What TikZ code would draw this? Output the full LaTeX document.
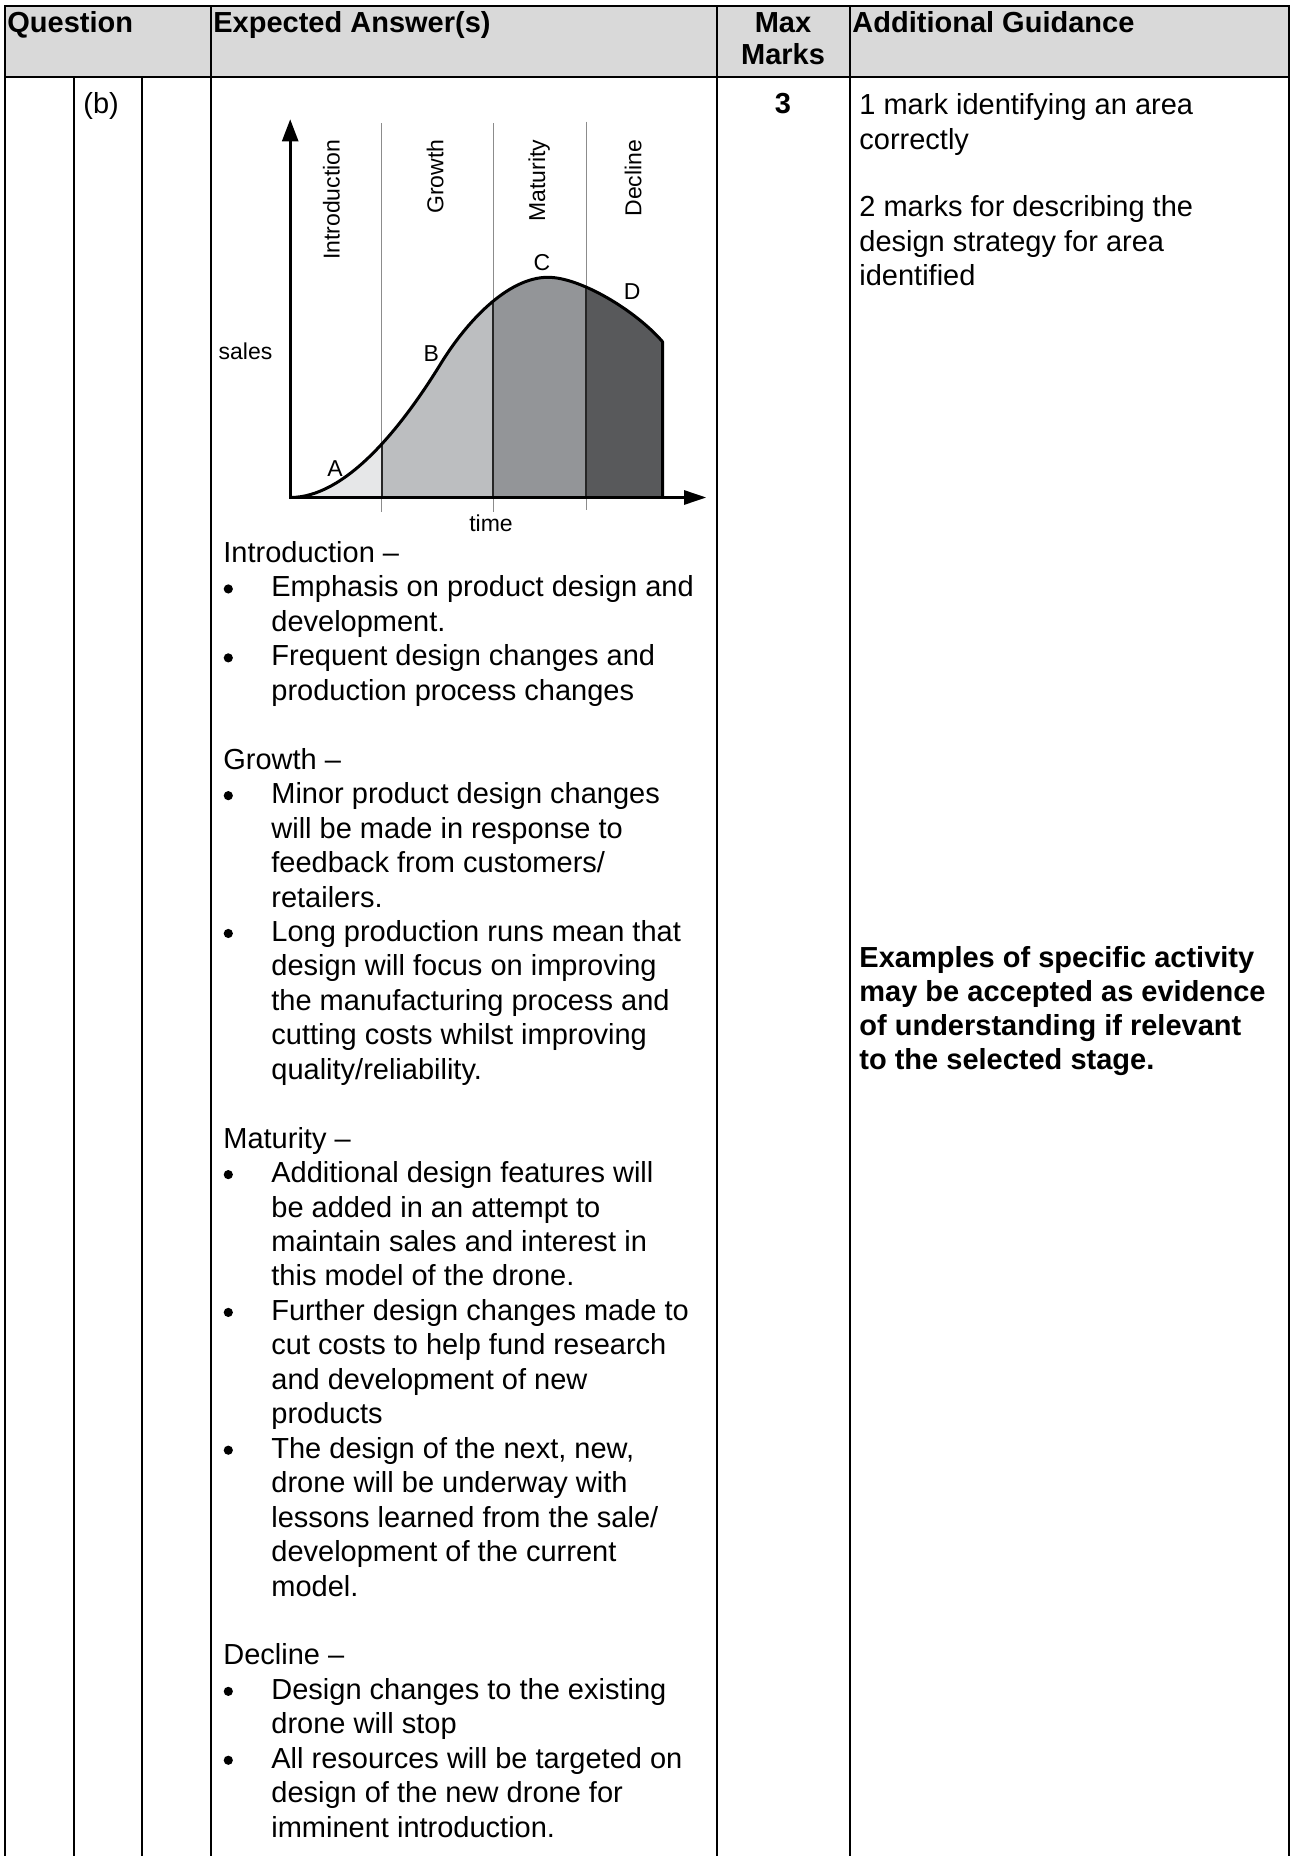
\documentclass[tikz,border=0pt]{standalone}
\usepackage{fontspec}
\setmainfont{Liberation Sans}
\usetikzlibrary{arrows.meta}
\definecolor{hdr}{HTML}{D9D9D9}
\definecolor{fA}{HTML}{E6E7E8}
\definecolor{fB}{HTML}{BCBEC0}
\definecolor{fC}{HTML}{939598}
\definecolor{fD}{HTML}{58595B}
\definecolor{guide}{HTML}{8C8C8C}
\newcommand\Ly[1]{562.5+34.45*#1}
\def\curvepath{(290.2,497.5) .. controls (345,497.5) and (400,430) .. (441,363.3) .. controls (465.6,323.3) and (507,277.3) .. (548,277.3) .. controls (580,277.3) and (635,310) .. (662.5,341.7)}
\begin{document}
\begin{tikzpicture}[x=0.5pt,y=-0.5pt,
  body/.style={anchor=base west,inner sep=0pt,font=\fontsize{14.5}{17}\selectfont},
  bodyb/.style={anchor=base west,inner sep=0pt,font=\fontsize{14.5}{17}\selectfont\bfseries},
  ctrb/.style={anchor=base,inner sep=0pt,font=\fontsize{14.5}{17}\selectfont\bfseries},
  lbl/.style={inner sep=0pt,font=\fontsize{11.5}{13}\selectfont},
  rlbl/.style={lbl,rotate=90,anchor=east},
  tline/.style={line width=1.2pt},
  bul/.style={fill=black},
]
\useasboundingbox (0,0) rectangle (1293,1856);
% ---------- table ----------
\fill[hdr] (5,6) rectangle (1289,77);
\draw[tline] (5,1856) -- (5,6) -- (1289,6) -- (1289,1856);
\draw[tline] (5,77) -- (1289,77);
\draw[tline] (74,77) -- (74,1856);
\draw[tline] (142,77) -- (142,1856);
\draw[tline] (211,6) -- (211,1856);
\draw[tline] (717,6) -- (717,1856);
\draw[tline] (850,6) -- (850,1856);
% header
\node[bodyb] (hq) at (7,33) {Question};
\node[bodyb] (he) at (213,33) {Expected Answer(s)};
\node[ctrb] (hm1) at (783,33) {Max};
\node[ctrb] (hm2) at (783,65) {Marks};
\node[bodyb] (hg) at (852,33) {Additional Guidance};
% row
\node[body] (qb) at (83,114) {(b)};
\node[ctrb] (mk) at (783,114) {3};
\node[body] (g1) at (859,115) {1 mark identifying an area};
\node[body] (g2) at (859,150) {correctly};
\node[body] (g3) at (859,217) {2 marks for describing the};
\node[body] (g4) at (859,252) {design strategy for area};
\node[body] (g5) at (859,286) {identified};
\node[bodyb] (e1) at (859,967) {Examples of specific activity};
\node[bodyb] (e2) at (859,1001) {may be accepted as evidence};
\node[bodyb] (e3) at (859,1035) {of understanding if relevant};
\node[bodyb] (e4) at (859,1069) {to the selected stage.};
% answer text
\node[body] (l0) at (223,{\Ly{0}}) {Introduction –};
\node[body] (l1) at (271,{\Ly{1}}) {Emphasis on product design and};
\node[body] (l2) at (271,{\Ly{2}}) {development.};
\node[body] (l3) at (271,{\Ly{3}}) {Frequent design changes and};
\node[body] (l4) at (271,{\Ly{4}}) {production process changes};
\node[body] (l6) at (223,{\Ly{6}}) {Growth –};
\node[body] (l7) at (271,{\Ly{7}}) {Minor product design changes};
\node[body] (l8) at (271,{\Ly{8}}) {will be made in response to};
\node[body] (l9) at (271,{\Ly{9}}) {feedback from customers/};
\node[body] (l10) at (271,{\Ly{10}}) {retailers.};
\node[body] (l11) at (271,{\Ly{11}}) {Long production runs mean that};
\node[body] (l12) at (271,{\Ly{12}}) {design will focus on improving};
\node[body] (l13) at (271,{\Ly{13}}) {the manufacturing process and};
\node[body] (l14) at (271,{\Ly{14}}) {cutting costs whilst improving};
\node[body] (l15) at (271,{\Ly{15}}) {quality/reliability.};
\node[body] (l17) at (223,{\Ly{17}}) {Maturity –};
\node[body] (l18) at (271,{\Ly{18}}) {Additional design features will};
\node[body] (l19) at (271,{\Ly{19}}) {be added in an attempt to};
\node[body] (l20) at (271,{\Ly{20}}) {maintain sales and interest in};
\node[body] (l21) at (271,{\Ly{21}}) {this model of the drone.};
\node[body] (l22) at (271,{\Ly{22}}) {Further design changes made to};
\node[body] (l23) at (271,{\Ly{23}}) {cut costs to help fund research};
\node[body] (l24) at (271,{\Ly{24}}) {and development of new};
\node[body] (l25) at (271,{\Ly{25}}) {products};
\node[body] (l26) at (271,{\Ly{26}}) {The design of the next, new,};
\node[body] (l27) at (271,{\Ly{27}}) {drone will be underway with};
\node[body] (l28) at (271,{\Ly{28}}) {lessons learned from the sale/};
\node[body] (l29) at (271,{\Ly{29}}) {development of the current};
\node[body] (l30) at (271,{\Ly{30}}) {model.};
\node[body] (l32) at (223,{\Ly{32}}) {Decline –};
\node[body] (l33) at (271,{\Ly{33}}) {Design changes to the existing};
\node[body] (l34) at (271,{\Ly{34}}) {drone will stop};
\node[body] (l35) at (271,{\Ly{35}}) {All resources will be targeted on};
\node[body] (l36) at (271,{\Ly{36}}) {design of the new drone for};
\node[body] (l37) at (271,{\Ly{37}}) {imminent introduction.};
\foreach \n in {1,3,7,11,18,22,26,33,35}
  \fill[bul] (228.3,{\Ly{\n}-8}) circle[radius=2.3pt];
% ---------- chart ----------
\begin{scope}\clip (280,100) rectangle (381.8,510);
  \fill[fA] \curvepath -- (662.5,497.5) -- cycle; \end{scope}
\begin{scope}\clip (381.8,100) rectangle (493.4,510);
  \fill[fB] \curvepath -- (662.5,497.5) -- cycle; \end{scope}
\begin{scope}\clip (493.4,100) rectangle (586.4,510);
  \fill[fC] \curvepath -- (662.5,497.5) -- cycle; \end{scope}
\begin{scope}\clip (586.4,100) rectangle (670,510);
  \fill[fD] \curvepath -- (662.5,497.5) -- cycle; \end{scope}
\draw[guide,line width=0.6pt] (381.8,123.3) -- (381.8,511.7);
\draw[guide,line width=0.6pt] (493.4,123.3) -- (493.4,511.7);
\draw[guide,line width=0.6pt] (586.4,121.7) -- (586.4,510);
\begin{scope}\clip \curvepath -- (662.5,497.5) -- cycle;
  \draw[line width=1pt,black!85] (381.8,100) -- (381.8,510);
  \draw[line width=1pt,black!85] (493.4,100) -- (493.4,510);
  \draw[line width=1pt,black!85] (586.4,100) -- (586.4,510);
\end{scope}
\draw[line width=1.5pt,line join=round] \curvepath -- (662.5,497.5);
\draw[line width=1.3pt,-{Triangle[length=11pt,width=8pt]}] (290.2,498.4) -- (290.2,119.3);
\draw[line width=1.3pt,-{Triangle[length=11pt,width=7pt]}] (289.4,497.5) -- (706.2,497.5);
\node[rlbl] (ci) at (331.5,139.3) {Introduction};
\node[rlbl] (cg) at (435.2,139.3) {Growth};
\node[rlbl] (cm) at (539.2,139.3) {Maturity};
\node[rlbl] (cd) at (633.2,139.3) {Decline};
\node[lbl] (sa) at (245.5,351.7) {sales};
\node[lbl] (ti) at (491,523.3) {time};
\node[lbl] (pa) at (335,468.3) {A};
\node[lbl] (pb) at (431.4,354) {B};
\node[lbl] (pc) at (542,262.3) {C};
\node[lbl] (pd) at (632.2,291.7) {D};
\end{tikzpicture}
\end{document}
